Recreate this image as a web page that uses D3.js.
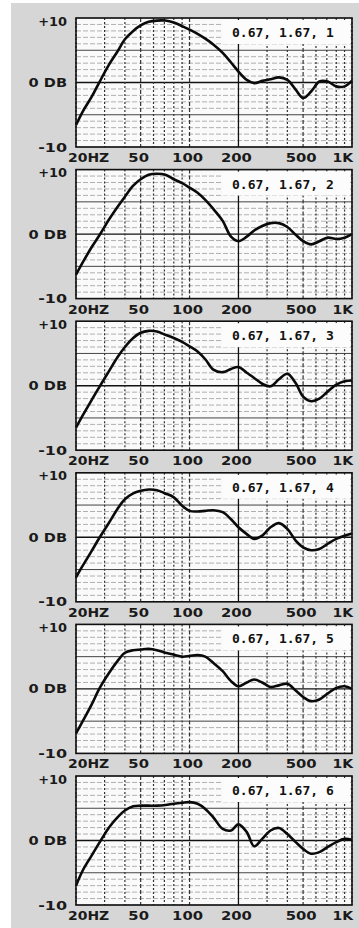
<!DOCTYPE html>
<html>
<head>
<meta charset="utf-8">
<script src="https://cdn.jsdelivr.net/npm/d3@7"></script>
<style>
body { margin: 0; background: #fff; }
</style>
</head>
<body>
<div class="panels-div"></div>
<script>
//--------------------------- Data

var freqs = [20, 22, 25, 28, 32, 36, 40, 45, 50, 56, 63, 71, 80, 90, 100, 112, 125, 140, 160, 180,
             200, 225, 250, 280, 315, 355, 400, 450, 500, 560, 630, 710, 800, 900, 1000];

var db1 = [-6.6, -4.5, -2.2, 0.15, 2.8, 4.8, 6.7, 8.0, 8.85, 9.4, 9.6, 9.6, 9.3, 8.75, 8.2, 7.55, 6.8, 5.9, 4.6, 3.1,
           1.7, 0.4, -0.1, 0.25, 0.5, 0.8, 0.4, -1.1, -2.4, -1.4, 0.15, 0.15, -0.6, -0.6, 0.3];
var db2 = [-6.3, -4.4, -2.0, -0.1, 2.3, 4.2, 5.8, 7.5, 8.5, 9.2, 9.35, 9.2, 8.5, 7.9, 7.2, 6.4, 5.3, 3.9, 2.05, -0.4,
           -1.1, -0.4, 0.55, 1.25, 1.7, 1.7, 1.1, -0.1, -1.1, -1.6, -1.1, -0.55, -0.75, -0.55, 0];
var db3 = [-6.5, -4.6, -2.2, -0.1, 2.3, 4.4, 6.0, 7.4, 8.2, 8.5, 8.4, 7.9, 7.4, 6.8, 6.1, 5.3, 4.1, 2.5, 2.1, 2.6,
           2.9, 2.0, 1.2, 0.3, -0.1, 1.0, 1.85, 0.4, -1.7, -2.4, -2.0, -0.9, 0.15, 0.7, 0.8];
var db4 = [-6.2, -4.4, -2.1, 0, 2.3, 4.4, 5.9, 6.8, 7.2, 7.4, 7.3, 6.8, 6.2, 4.9, 4.1, 4.0, 4.1, 4.2, 3.9, 2.8,
           1.55, 0.5, -0.25, 0.25, 1.55, 2.2, 1.3, -0.5, -1.55, -2.0, -1.8, -1.0, -0.25, 0.25, 0.6];
var db5 = [-6.9, -5.0, -2.4, 0.15, 2.5, 4.3, 5.6, 6.0, 6.1, 6.2, 6.0, 5.6, 5.3, 5.0, 5.1, 5.25, 5.0, 4.05, 2.75, 1.2,
           0.4, 1.0, 1.45, 1.0, 0.3, 0.55, 0.8, -0.25, -1.25, -1.9, -1.65, -0.7, 0.15, 0.4, 0];
var db6 = [-7.0, -4.65, -2.3, -0.25, 2.05, 3.6, 4.65, 5.3, 5.4, 5.4, 5.4, 5.5, 5.7, 5.85, 5.95, 5.7, 4.9, 3.6, 1.8, 1.55,
           2.5, 1.3, -0.9, 0.25, 1.55, 1.95, 1.0, -0.25, -1.3, -2.05, -1.8, -1.0, -0.25, 0.25, 0.1];

var curves = [db1, db2, db3, db4, db5, db6];
var panelLabels = ["0.67, 1.67, 1", "0.67, 1.67, 2", "0.67, 1.67, 3",
                   "0.67, 1.67, 4", "0.67, 1.67, 5", "0.67, 1.67, 6"];

var xTickValues = [20, 50, 100, 200, 500, 1000];
var xTickLabels = ["20HZ", "50", "100", "200", "500", "1K"];
var yTickValues = [10, 0, -10];
var yTickLabels = ["+10", "0 DB", "-10"];

//--------------------------- SVG definition

var width = 359;
var height = 928;

var svg = d3.select("div.panels-div")
    .append("svg")
    .attr("width", width)
    .attr("height", height)
    .style("display", "block");

svg.append("rect")
    .attr("x", 11)
    .attr("y", 3)
    .attr("width", width - 11)
    .attr("height", height - 3)
    .attr("fill", "#d6d6d6");

//--------------------------- Constant definition

var plotLeft = 76;
var plotRight = 352;
var firstTop = 18;
var panelPitch = 151.6;
var panelHeight = 129;
var labelFont = "DejaVu Sans, Verdana, sans-serif";

var x = d3.scaleLog()
    .domain([20, 1000])
    .range([plotLeft, plotRight]);

//--------------------------- One panel per curve

for (k = 0; k < curves.length; k++) {

    var panelTop = firstTop + k * panelPitch;
    var panelBottom = panelTop + panelHeight;

    var y = d3.scaleLinear()
        .domain([-10, 10])
        .range([panelBottom, panelTop]);

    var panel = svg.append("g");

    panel.append("rect")
        .attr("x", plotLeft)
        .attr("y", panelTop)
        .attr("width", plotRight - plotLeft)
        .attr("height", panelHeight)
        .attr("fill", "#fafafa");

    // horizontal grid, one line per dB
    panel.selectAll("line.hgrid").data(y.ticks(20)).enter()
        .append("line")
        .attr("class", "hgrid")
        .attr("x1", plotLeft)
        .attr("x2", plotRight)
        .attr("y1", function (d) { return y(d); })
        .attr("y2", function (d) { return y(d); })
        .attr("stroke", function (d) {
            if (d == 0) return "#111";
            if (Math.abs(d) == 5) return "#444";
            return "#b0b0b0";
        })
        .attr("stroke-width", function (d) { return d == 0 ? 1.4 : 1; })
        .attr("stroke-dasharray", function (d) { return (d % 5 == 0) ? null : "5,2"; });

    // vertical grid on the log decades
    panel.selectAll("line.vgrid").data(x.ticks()).enter()
        .append("line")
        .attr("class", "vgrid")
        .attr("x1", function (d) { return x(d); })
        .attr("x2", function (d) { return x(d); })
        .attr("y1", panelTop)
        .attr("y2", panelBottom)
        .attr("stroke", function (d) { return d == 200 ? "#111" : "#333"; })
        .attr("stroke-width", function (d) { return d == 200 ? 1.3 : 1.2; })
        .attr("stroke-dasharray", function (d) {
            if (d == 200) return null;
            if (d == 50 || d == 100 || d == 500) return "4,2";
            return "2,2";
        });

    // label box
    panel.append("rect")
        .attr("x", 223)
        .attr("y", panelTop + 2)
        .attr("width", plotRight - 225)
        .attr("height", 24)
        .attr("fill", "#fcfcfc");

    panel.append("text")
        .attr("x", 232)
        .attr("y", panelTop + 19)
        .text(panelLabels[k])
        .attr("font-family", "DejaVu Sans Mono, monospace")
        .attr("font-weight", "bold")
        .attr("font-size", 13)
        .style("fill", "#111");

    // response curve
    var lineGenerator = d3.line()
        .x(function (d, i) { return x(freqs[i]); })
        .y(function (d) { return y(d); })
        .curve(d3.curveCatmullRom.alpha(0.5));

    panel.append("path")
        .attr("d", lineGenerator(curves[k]))
        .attr("fill", "none")
        .attr("stroke", "#0a0a0a")
        .attr("stroke-width", 2.6)
        .attr("stroke-linejoin", "round");

    // frame
    panel.append("rect")
        .attr("x", plotLeft)
        .attr("y", panelTop)
        .attr("width", plotRight - plotLeft)
        .attr("height", panelHeight)
        .attr("fill", "none")
        .attr("stroke", "#111")
        .attr("stroke-width", 1.6);

    // y labels, stretched wide like the original lettering
    panel.selectAll("text.ylab").data(yTickValues).enter()
        .append("text")
        .attr("class", "ylab")
        .attr("x", plotLeft - 9)
        .attr("y", function (d) { return y(d) + (d == 10 ? 3 : 0); })
        .attr("dy", "0.38em")
        .style("text-anchor", "end")
        .text(function (d, i) { return yTickLabels[i]; })
        .attr("textLength", function (d, i) { return yTickLabels[i].length * 9.6; })
        .attr("lengthAdjust", "spacingAndGlyphs")
        .attr("font-family", labelFont)
        .attr("font-weight", "bold")
        .attr("font-size", 12)
        .style("fill", "#1a1a1a");

    // x labels
    panel.selectAll("text.xlab").data(xTickValues).enter()
        .append("text")
        .attr("class", "xlab")
        .attr("x", function (d) {
            if (d == 20) return x(d) - 8;
            if (d == 1000) return x(d) + 1;
            return x(d) - 2;
        })
        .attr("y", panelBottom + 15)
        .style("text-anchor", function (d) {
            if (d == 20) return "start";
            if (d == 1000) return "end";
            return "middle";
        })
        .text(function (d, i) { return xTickLabels[i]; })
        .attr("textLength", function (d, i) { return xTickLabels[i].length * 10.3; })
        .attr("lengthAdjust", "spacingAndGlyphs")
        .attr("font-family", labelFont)
        .attr("font-weight", "bold")
        .attr("font-size", 12)
        .style("fill", "#1a1a1a");
}
</script>
</body>
</html>
